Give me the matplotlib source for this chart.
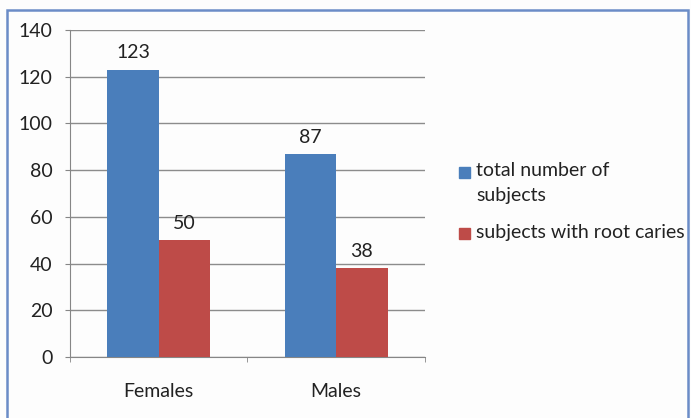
import matplotlib.pyplot as plt
import numpy as np
from matplotlib.patches import Rectangle

groups = ["Females", "Males"]
total_subjects = [123, 87]
root_caries = [50, 38]
series_names = ["total number of\nsubjects", "subjects with root caries"]
series_colors = ["#4a7ebb", "#be4b48"]

plt.rcParams["font.family"] = ["Lato", "DejaVu Sans"]
FS = 14
TXT = "#222222"

fig = plt.figure(figsize=(6.91, 4.18), dpi=100)
fig.patch.set_facecolor("#fdfdfd")
ax = fig.add_axes([0.1013, 0.146, 0.5137, 0.782])
ax.set_facecolor("#fdfdfd")

x = np.arange(len(groups))
w = 0.29
b1 = ax.bar(x - w / 2, total_subjects, w, color=series_colors[0], zorder=3)
b2 = ax.bar(x + w / 2, root_caries, w, color=series_colors[1], zorder=3)
ax.bar_label(b1, padding=6, fontsize=FS, color=TXT)
ax.bar_label(b2, padding=6, fontsize=FS, color=TXT)

ax.set_xlim(-0.5, 1.5)
ax.set_ylim(0, 140)
ax.set_yticks(range(0, 141, 20))
ax.yaxis.grid(True, color="#8c8c8c", linewidth=1, zorder=0)

# category labels centred, tick marks on the boundaries
ax.set_xticks(x)
ax.set_xticklabels(groups)
ax.set_xticks([-0.5, 0.5, 1.5], minor=True)
ax.tick_params(axis="x", which="major", length=0, pad=19, labelsize=FS, labelcolor=TXT)
ax.tick_params(axis="x", which="minor", length=3.6, color="#868686", direction="out")
ax.tick_params(axis="y", length=3.6, color="#868686", pad=9, labelsize=FS, labelcolor=TXT)

for side in ["top", "right"]:
    ax.spines[side].set_visible(False)
for side in ["left", "bottom"]:
    ax.spines[side].set_color("#868686")

# legend: square key aligned with the first line of each entry
key_y = [172, 234]
for name, col, yy in zip(series_names, series_colors, key_y):
    fig.patches.append(Rectangle((459 / 691, 1 - (yy + 5.5) / 418), 11 / 691, 11 / 418,
                                 transform=fig.transFigure, color=col))
    fig.text(476 / 691, 1 - (yy - 10) / 418, name, fontsize=FS, color=TXT,
             va="top", ha="left", linespacing=1.6)

# blue frame around the chart
fig.patches.append(Rectangle((7 / 691, -0.05), 681 / 691, 1.05 - 10 / 418, transform=fig.transFigure,
                             fill=False, edgecolor="#6b8cc7", linewidth=1.8))

fig.savefig("out.png", dpi=100, facecolor=fig.get_facecolor())
